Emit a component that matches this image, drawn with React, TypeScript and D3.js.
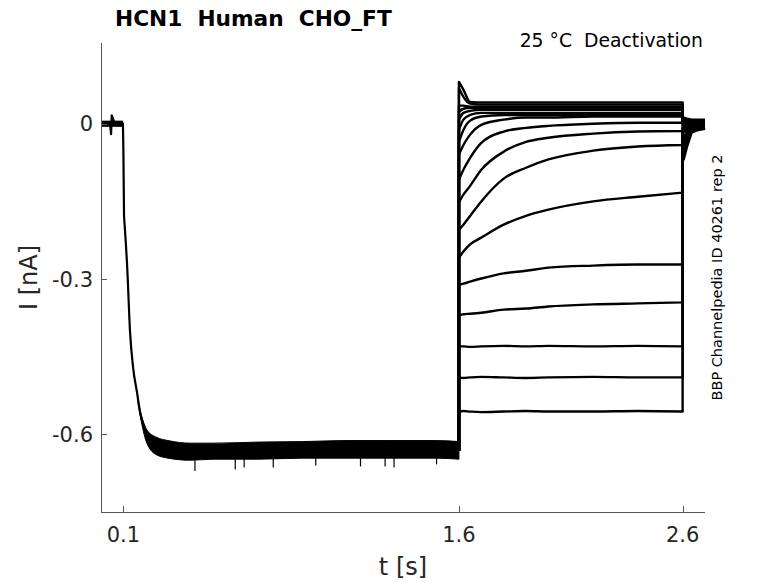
// @ts-nocheck
import * as d3 from 'd3';
import React from 'react';

// holding step: baseline then activation to the hyperpolarised level
const actTimes = [0, 0.02, 0.04, 0.045, 0.048, 0.06, 0.08, 0.098, 0.1, 0.103, 0.117, 0.13, 0.143, 0.161, 0.175, 0.19, 0.206, 0.23, 0.251];
const actValues = [0.001, 0.002, 0.0, -0.02, 0.016, 0.002, 0.001, 0.001, -0.05, -0.179, -0.276, -0.403, -0.469, -0.519, -0.558, -0.582, -0.596, -0.61, -0.62];

// noisy plateau before the test pulses (upper / lower envelope)
const bandTimes = [0.165, 0.18, 0.206, 0.25, 0.3, 0.4, 0.5, 0.7, 0.9, 1.1, 1.3, 1.5, 1.6];
const bandUpper = [-0.534, -0.562, -0.592, -0.606, -0.612, -0.617, -0.617, -0.615, -0.614, -0.612, -0.612, -0.612, -0.614];
const bandLower = [-0.538, -0.575, -0.618, -0.64, -0.646, -0.65, -0.648, -0.648, -0.646, -0.646, -0.646, -0.646, -0.648];
const spikeTimes = [0.42, 0.6, 0.64, 0.77, 0.96, 1.16, 1.27, 1.31, 1.5];
const spikeValues = [-0.671, -0.668, -0.664, -0.664, -0.66, -0.662, -0.662, -0.664, -0.658];
const plateau = -0.632;

// deactivation steps, 1.6 s to 2.6 s
const stepTimes = [1.6, 1.62, 1.65, 1.7, 1.8, 1.9, 2.0, 2.2, 2.4, 2.6];
const stepTraces = [
  [0.081, 0.066, 0.042, 0.041, 0.041, 0.041, 0.041, 0.041, 0.041, 0.041],
  [0.069, 0.052, 0.039, 0.037, 0.037, 0.037, 0.037, 0.037, 0.037, 0.037],
  [0.035, 0.035, 0.033, 0.033, 0.033, 0.033, 0.033, 0.033, 0.033, 0.033],
  [0.023, 0.029, 0.031, 0.031, 0.031, 0.031, 0.031, 0.031, 0.031, 0.031],
  [0.008, 0.021, 0.025, 0.027, 0.027, 0.027, 0.027, 0.027, 0.027, 0.027],
  [-0.012, 0.008, 0.017, 0.021, 0.021, 0.021, 0.021, 0.021, 0.021, 0.021],
  [-0.035, -0.012, 0.006, 0.014, 0.017, 0.017, 0.017, 0.017, 0.017, 0.017],
  [-0.06, -0.041, -0.021, -0.002, 0.008, 0.012, 0.012, 0.014, 0.014, 0.014],
  [-0.108, -0.089, -0.066, -0.037, -0.015, -0.008, -0.004, 0, 0.002, 0.002],
  [-0.152, -0.137, -0.12, -0.089, -0.054, -0.035, -0.027, -0.019, -0.015, -0.014],
  [-0.205, -0.195, -0.178, -0.15, -0.106, -0.085, -0.069, -0.052, -0.044, -0.041],
  [-0.259, -0.247, -0.233, -0.22, -0.195, -0.178, -0.166, -0.15, -0.141, -0.133],
  [-0.311, -0.309, -0.305, -0.299, -0.289, -0.284, -0.278, -0.274, -0.272, -0.272],
  [-0.37, -0.368, -0.367, -0.365, -0.359, -0.357, -0.353, -0.349, -0.347, -0.345],
  [-0.43, -0.43, -0.431, -0.43, -0.429, -0.43, -0.429, -0.43, -0.429, -0.43],
  [-0.49, -0.491, -0.49, -0.489, -0.49, -0.491, -0.49, -0.489, -0.49, -0.49],
  [-0.556, -0.555, -0.556, -0.557, -0.556, -0.555, -0.556, -0.556, -0.555, -0.556],
];

// tail currents after returning to holding at 2.6 s
const tailTimes = [2.6, 2.605, 2.62, 2.64, 2.67, 2.7];
const tailTraces = [
  [0.012, 0.012, 0.01, 0.008, 0.008, 0.008],
  [0.01, 0.01, 0.008, 0.006, 0.006, 0.006],
  [0.008, 0.008, 0.006, 0.004, 0.004, 0.004],
  [0.006, 0.006, 0.004, 0.004, 0.002, 0.002],
  [0.004, 0.004, 0.004, 0.002, 0.002, 0.002],
  [0.002, 0.002, 0.002, 0, 0, 0],
  [0, 0, 0, 0, -0.002, -0.002],
  [-0.002, -0.002, -0.002, -0.002, -0.002, -0.002],
  [-0.004, -0.004, -0.004, -0.004, -0.004, -0.004],
  [-0.006, -0.008, -0.006, -0.006, -0.006, -0.006],
  [-0.008, -0.012, -0.008, -0.008, -0.008, -0.006],
  [-0.008, -0.017, -0.012, -0.008, -0.008, -0.008],
  [-0.012, -0.027, -0.017, -0.01, -0.008, -0.008],
  [-0.015, -0.037, -0.023, -0.012, -0.01, -0.008],
  [-0.021, -0.05, -0.031, -0.014, -0.01, -0.008],
  [-0.031, -0.06, -0.037, -0.015, -0.01, -0.008],
  [-0.041, -0.069, -0.044, -0.017, -0.012, -0.01],
];

const xTicks = [0.1, 1.6, 2.6];
const yTicks = [0, -0.3, -0.6];

const width = 778;
const height = 583;
const plot = { left: 101, right: 705, top: 43, bottom: 512 };
const font = '"DejaVu Sans", sans-serif';
const ink = '#262626';

export default function App() {
  const x = d3.scaleLinear().domain([0, 2.7]).range([plot.left, plot.right]);
  const y = d3.scaleLinear().domain([-0.75, 0.156]).range([plot.bottom, plot.top]);

  const linear = d3.line().x(d => x(d[0])).y(d => y(d[1]));
  const smooth = d3.line().x(d => x(d[0])).y(d => y(d[1])).curve(d3.curveMonotoneX);

  // baseline + drop drawn straight, decay smoothed, joined in one path
  const basePath = linear(actTimes.slice(0, 10).map((t, i) => [t, actValues[i]]));
  const decay = smooth(actTimes.slice(9).map((t, i) => [t, actValues[i + 9]])).replace(/^M/, 'L');
  const actPath = basePath + decay;
  const baseBand = d3
    .area()
    .x(d => x(d))
    .y0(y(-0.006))
    .y1(y(0.006))([0, 0.098]);
  const bandPath = d3
    .area()
    .x(d => x(d))
    .y0((d, i) => y(bandLower[i]))
    .y1((d, i) => y(bandUpper[i]))
    .curve(d3.curveMonotoneX)(bandTimes);

  const tracePaths = stepTraces.map((vals, k) => {
    const head = `M${x(1.6)},${y(plateau)}`;
    const body = smooth(stepTimes.map((t, i) => [t, vals[i]])).replace(/^M/, 'L');
    const tail = linear(tailTimes.map((t, i) => [t, tailTraces[k][i]])).replace(/^M/, 'L');
    return head + body + tail;
  });

  return (
    <div style={{ position: 'fixed', left: 0, top: 0 }}>
      <svg width={width} height={height} style={{ display: 'block', background: '#fff' }}>
        {/* traces */}
        <path d={baseBand} fill="#000" />
        <path d={actPath} fill="none" stroke="#000" strokeWidth={2.2} strokeLinejoin="round" />
        <path d={bandPath} fill="#000" stroke="#000" strokeWidth={1} />
        {spikeTimes.map((t, i) => (
          <line
            key={'s' + i}
            x1={x(t)}
            x2={x(t)}
            y1={y(-0.645)}
            y2={y(spikeValues[i])}
            stroke="#000"
            strokeWidth={1.2}
          />
        ))}
        {tracePaths.map((d, i) => (
          <path key={'t' + i} d={d} fill="none" stroke="#000" strokeWidth={2.4} strokeLinejoin="round" />
        ))}

        {/* axes */}
        <line x1={plot.left + 0.5} x2={plot.left + 0.5} y1={plot.top} y2={plot.bottom} stroke="#555" strokeWidth={1} />
        <line x1={plot.left} x2={plot.right} y1={plot.bottom + 0.5} y2={plot.bottom + 0.5} stroke="#555" strokeWidth={1} />
        {yTicks.map(v => (
          <g key={'y' + v}>
            <line x1={plot.left} x2={plot.left + 6} y1={Math.round(y(v)) + 0.5} y2={Math.round(y(v)) + 0.5} stroke="#555" />
            <text x={93} y={y(v) + 7.5} textAnchor="end" fontFamily={font} fontSize={21} fill={ink}>
              {v === 0 ? '0' : String(v)}
            </text>
          </g>
        ))}
        {xTicks.map(v => (
          <g key={'x' + v}>
            <line x1={Math.round(x(v)) + 0.5} x2={Math.round(x(v)) + 0.5} y1={plot.bottom} y2={plot.bottom - 6} stroke="#555" />
            <text x={x(v)} y={542} textAnchor="middle" fontFamily={font} fontSize={21} fill={ink}>
              {v.toFixed(1)}
            </text>
          </g>
        ))}

        {/* labels */}
        <text x={(plot.left + plot.right) / 2} y={575} textAnchor="middle" fontFamily={font} fontSize={24} fill={ink}>
          t [s]
        </text>
        <text
          transform={`translate(37,${(plot.top + plot.bottom) / 2}) rotate(-90)`}
          textAnchor="middle"
          fontFamily={font}
          fontSize={24}
          fill={ink}
        >
          I [nA]
        </text>
        <text x={115} y={26} fontFamily={font} fontSize={21.7} fontWeight="bold" fill="#000" style={{ whiteSpace: 'pre' }}>
          {'HCN1  Human  CHO_FT'}
        </text>
        <text x={703} y={47} textAnchor="end" fontFamily={font} fontSize={18.8} fill="#000" style={{ whiteSpace: 'pre' }}>
          {'25 °C  Deactivation'}
        </text>
        <text
          transform={`translate(722,${(plot.top + plot.bottom) / 2}) rotate(-90)`}
          textAnchor="middle"
          fontFamily={font}
          fontSize={14.5}
          fill="#000"
        >
          BBP Channelpedia ID 40261 rep 2
        </text>
      </svg>
    </div>
  );
}
